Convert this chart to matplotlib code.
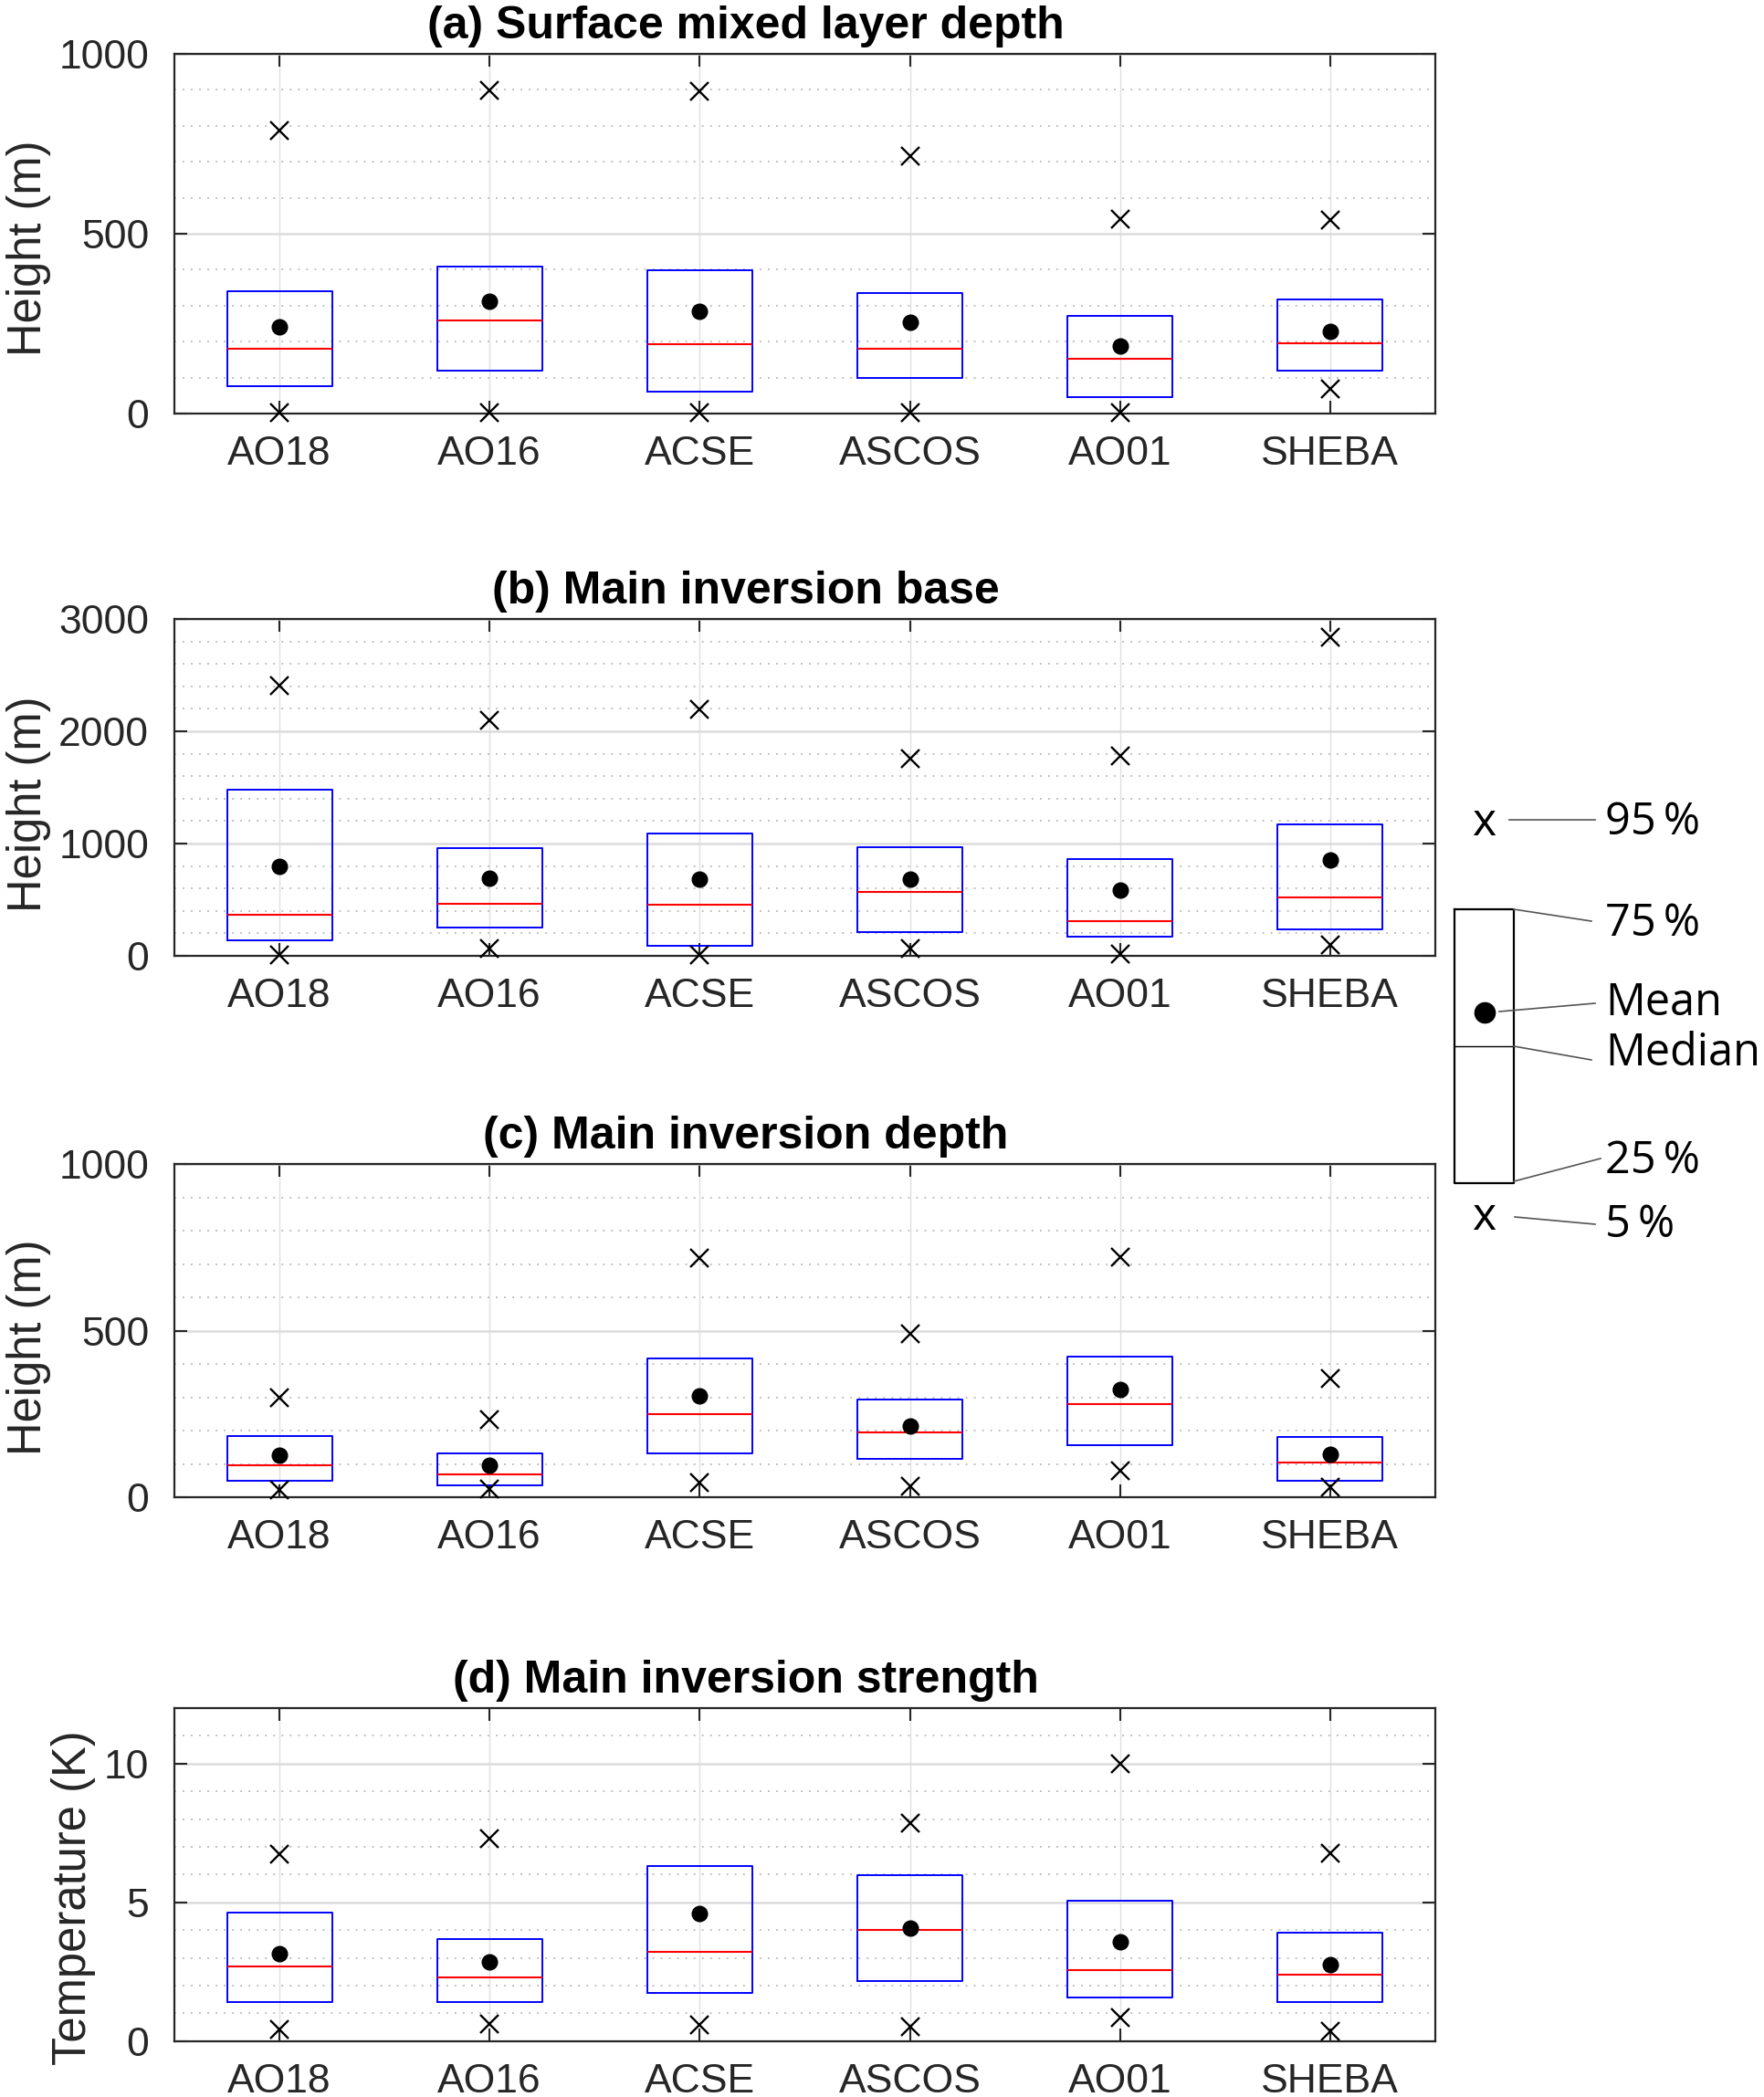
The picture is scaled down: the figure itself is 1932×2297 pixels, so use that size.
import numpy as np
import matplotlib
matplotlib.use('Agg')
import matplotlib.pyplot as plt
from matplotlib.ticker import MultipleLocator

plt.rcParams['font.family'] = ['Liberation Sans', 'DejaVu Sans']

campaigns = ['AO18', 'AO16', 'ACSE', 'ASCOS', 'AO01', 'SHEBA']

# (a) surface mixed layer depth (m)
sml_p5 = [2, 2, 2, 2, 2, 69]
sml_p25 = [75, 119, 62, 100, 45, 119]
sml_med = [180, 260, 193, 180, 153, 195]
sml_mean = [242, 313, 285, 253, 189, 229]
sml_p75 = [340, 408, 399, 336, 271, 316]
sml_p95 = [786, 899, 895, 717, 540, 538]

# (b) main inversion base (m)
mib_p5 = [10, 62, 10, 65, 15, 95]
mib_p25 = [135, 253, 87, 214, 174, 234]
mib_med = [364, 464, 456, 565, 312, 524]
mib_mean = [793, 692, 684, 679, 589, 850]
mib_p75 = [1482, 961, 1086, 964, 861, 1170]
mib_p95 = [2411, 2096, 2194, 1759, 1778, 2837]

# (c) main inversion depth (m)
mid_p5 = [23, 24, 45, 32, 79, 29]
mid_p25 = [50, 36, 132, 115, 155, 50]
mid_med = [95, 70, 250, 195, 280, 105]
mid_mean = [125, 97, 305, 214, 323, 129]
mid_p75 = [184, 133, 416, 293, 421, 180]
mid_p95 = [300, 232, 719, 490, 720, 355]

# (d) main inversion strength (K)
mis_p5 = [0.41, 0.63, 0.60, 0.52, 0.85, 0.36]
mis_p25 = [1.41, 1.40, 1.75, 2.16, 1.56, 1.41]
mis_med = [2.70, 2.30, 3.22, 4.02, 2.57, 2.39]
mis_mean = [3.14, 2.85, 4.59, 4.07, 3.58, 2.76]
mis_p75 = [4.62, 3.69, 6.31, 5.98, 5.07, 3.91]
mis_p95 = [6.75, 7.31, 12.6, 7.84, 10.0, 6.78]

W, H = 1933, 2297
fig = plt.figure(figsize=(W / 100, H / 100), dpi=100)

panels = [
    ('(a) Surface mixed layer depth', 'Height (m)', (0, 1000), 500, 100, 0.46,
     sml_p5, sml_p25, sml_med, sml_mean, sml_p75, sml_p95, [0.0988, 0.8028, 0.7144, 0.1715]),
    ('(b) Main inversion base', 'Height (m)', (0, 3000), 1000, 200, 0.45,
     mib_p5, mib_p25, mib_med, mib_mean, mib_p75, mib_p95, [0.0988, 0.5442, 0.7144, 0.1606]),
    ('(c) Main inversion depth', 'Height (m)', (0, 1000), 500, 100, 0.45,
     mid_p5, mid_p25, mid_med, mid_mean, mid_p75, mid_p95, [0.0988, 0.2860, 0.7144, 0.1589]),
    ('(d) Main inversion strength', 'Temperature (K)', (0, 12), 5, 1, 0.43,
     mis_p5, mis_p25, mis_med, mis_mean, mis_p75, mis_p95, [0.0988, 0.0266, 0.7144, 0.1589]),
]

edge = '#262626'
pos = np.arange(1, len(campaigns) + 1)

for title, ylab, ylim, major, minor, ylab_y, p5, p25, med, mean, p75, p95, rect in panels:
    ax = fig.add_axes(rect)
    stats = []
    for i in range(len(campaigns)):
        stats.append(dict(med=med[i], q1=p25[i], q3=p75[i], whislo=p25[i],
                          whishi=p75[i], mean=mean[i], fliers=[], label=campaigns[i]))
    ax.bxp(stats, positions=pos, widths=0.5, showcaps=False, showfliers=False,
           showmeans=True,
           boxprops=dict(color='blue', linewidth=1.4),
           medianprops=dict(color='red', linewidth=1.5),
           whiskerprops=dict(linewidth=0),
           meanprops=dict(marker='o', markerfacecolor='black', markeredgecolor='black',
                          markersize=12))
    ax.plot(pos, p95, 'x', color='black', markersize=14, mew=1.7, zorder=5)
    ax.plot(pos, p5, 'x', color='black', markersize=14, mew=1.7, zorder=5, clip_on=False)

    ax.set_xlim(0.5, 6.5)
    ax.set_ylim(*ylim)
    ax.set_xticks(pos)
    ax.set_xticklabels(campaigns)
    ax.yaxis.set_major_locator(MultipleLocator(major))
    ax.yaxis.set_minor_locator(MultipleLocator(minor))
    ax.set_axisbelow(True)
    ax.yaxis.grid(True, which='major', color='#dcdcdc', linewidth=1.8)
    ax.yaxis.grid(True, which='minor', color='#b8b8b8', linewidth=1.3, linestyle=(0, (1, 4)))
    ax.xaxis.grid(True, which='major', color='#e0e0e0', linewidth=1.0)

    ax.tick_params(which='major', direction='in', length=10, width=1.5, top=True, right=True,
                   labelsize=32, colors=edge)
    ax.tick_params(axis='x', pad=17)
    ax.tick_params(axis='y', pad=20)
    ax.tick_params(which='minor', length=0)
    for s in ax.spines.values():
        s.set_color(edge)
        s.set_linewidth(1.6)

    ax.set_title(title, fontsize=36, fontweight='bold', x=0.453, pad=12)
    ax.set_ylabel(ylab, fontsize=36.5, color=edge, labelpad=6, y=ylab_y)

# schematic key on the right, drawn in pixel coordinates
key = fig.add_axes([0, 0, 1, 1], zorder=10)
key.set_xlim(0, W)
key.set_ylim(H, 0)
key.axis('off')
kfam = ['Open Sans', 'DejaVu Sans']
lc = '#555555'

key.plot([1593, 1658, 1658, 1593, 1593], [996, 996, 1296, 1296, 996], color='black', lw=1.6)
key.plot([1593, 1658], [1146, 1146], color='black', lw=1.0)
key.plot([1626], [1109], 'o', color='black', markersize=16)
key.text(1625, 902, 'x', ha='center', va='center', family=kfam, fontsize=36)
key.text(1625, 1334, 'x', ha='center', va='center', family=kfam, fontsize=36)

leaders = [([1653, 1747], [898, 898]),
           ([1658, 1743], [996, 1009]),
           ([1642, 1747], [1108, 1099]),
           ([1658, 1743], [1146, 1161]),
           ([1658, 1753], [1294, 1269]),
           ([1659, 1747], [1333, 1341])]
for xs, ys in leaders:
    key.plot(xs, ys, color=lc, lw=1.2)

labels = [('95\u2009%', 901), ('75\u2009%', 1012), ('Mean', 1099),
          ('Median', 1154), ('25\u2009%', 1272), ('5\u2009%', 1342)]
for txt, y in labels:
    key.text(1758, y, txt, family=kfam, fontsize=35, va='center', ha='left')

fig.savefig('out.png', dpi=100)
